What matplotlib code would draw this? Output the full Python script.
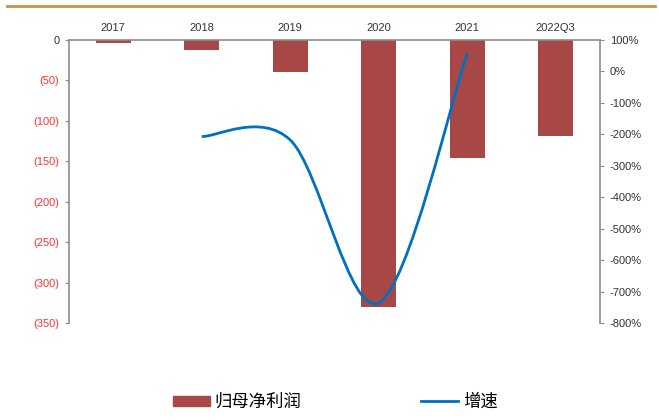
import matplotlib.pyplot as plt
import matplotlib.patches as mpatches
from matplotlib.path import Path
from matplotlib.lines import Line2D

plt.rcParams['font.family'] = ['Liberation Sans', 'Noto Sans CJK SC', 'DejaVu Sans']

# data
years = ['2017', '2018', '2019', '2020', '2021', '2022Q3']
profit = [-4, -12, -40, -330, -146, -119]          # 归母净利润
growth_years = [1, 2, 3, 4]                         # 2018 - 2021
growth = [-207, -218, -736, 58]                     # 增速 (%)

bar_color = '#A84846'
line_color = '#0070C0'
axis_color = '#8C8C8C'

fig = plt.figure(figsize=(6.59, 4.2), dpi=100)
ax = fig.add_axes([69 / 659, 1 - 323 / 420, 531 / 659, 283 / 420])

x = list(range(len(years)))
ax.bar(x, profit, width=0.4, color=bar_color, zorder=2)
ax.set_xlim(-0.5, len(years) - 0.5)
ax.set_ylim(-350, 0)
ax.set_yticks(range(-350, 1, 50))
ax.set_yticklabels(['0' if v == 0 else '(%d)' % -v for v in range(-350, 1, 50)])
for lab in ax.get_yticklabels():
    lab.set_color('#FF3333' if lab.get_text() != '0' else '#333333')
ax.tick_params(axis='y', labelsize=8, length=3, color=axis_color, pad=4)
ax.xaxis.tick_top()
ax.set_xticks(x)
ax.set_xticklabels(years)
ax.tick_params(axis='x', length=0, labelsize=8, pad=5, colors='#333333')
for side in ['right', 'bottom']:
    ax.spines[side].set_visible(False)
for side in ['left', 'top']:
    ax.spines[side].set_color(axis_color)
    ax.spines[side].set_linewidth(1.2)

ax2 = ax.twinx()
ax2.set_ylim(-800, 100)
ax2.set_yticks(range(-800, 101, 100))
ax2.set_yticklabels(['%d%%' % v for v in range(-800, 101, 100)])
ax2.tick_params(axis='y', labelsize=8, length=3, color=axis_color, colors='#333333', pad=4)
for side in ['left', 'top', 'bottom']:
    ax2.spines[side].set_visible(False)
ax2.spines['right'].set_color(axis_color)
ax2.spines['right'].set_linewidth(1.2)

# smoothed growth line (Catmull-Rom style bezier segments)
pts = list(zip(growth_years, growth))
verts = [pts[0]]
codes = [Path.MOVETO]
for i in range(len(pts) - 1):
    p0 = pts[i - 1] if i > 0 else pts[i]
    p1 = pts[i]
    p2 = pts[i + 1]
    p3 = pts[i + 2] if i + 2 < len(pts) else pts[i + 1]
    c1 = (p1[0] + (p2[0] - p0[0]) / 6, p1[1] + (p2[1] - p0[1]) / 6)
    c2 = (p2[0] - (p3[0] - p1[0]) / 6, p2[1] - (p3[1] - p1[1]) / 6)
    verts += [c1, c2, p2]
    codes += [Path.CURVE4] * 3
ax2.add_patch(mpatches.PathPatch(Path(verts, codes), fill=False,
                                 edgecolor=line_color, linewidth=2, zorder=3))

# top border line
fig.add_artist(Line2D([7 / 659, 655 / 659], [1 - 6 / 420, 1 - 6 / 420],
                      color='#C8963E', linewidth=2))

handles = [mpatches.Patch(color=bar_color, label='归母净利润'),
           Line2D([], [], color=line_color, linewidth=2, label='增速')]
leg = fig.legend(handles=handles, loc='center', bbox_to_anchor=(0.509, 1 - 402 / 420),
                 ncol=2, frameon=False, columnspacing=6.9, handlelength=2.1,
                 handleheight=0.5, handletextpad=0.3,
                 prop={'family': ['Noto Sans CJK SC'], 'size': 12.5})

fig.savefig('out.png', dpi=100)
